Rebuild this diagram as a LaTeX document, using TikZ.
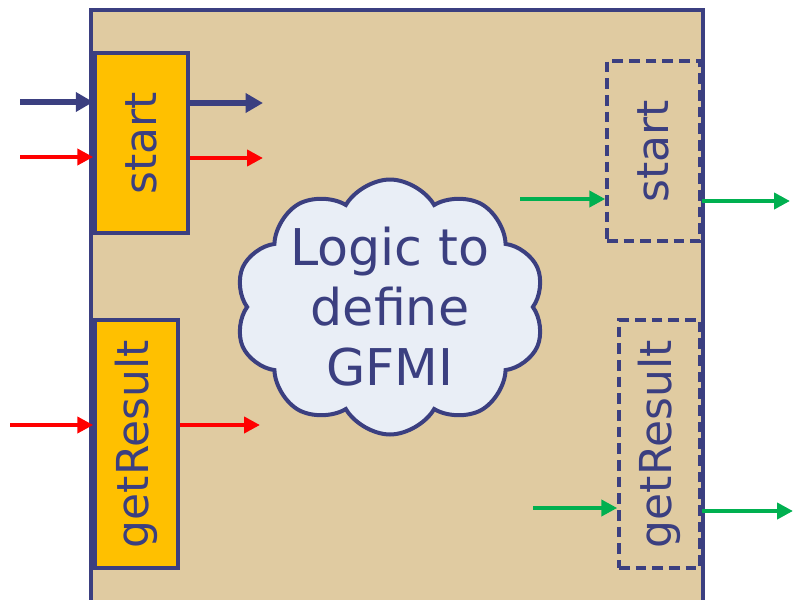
\documentclass[tikz,border=0pt]{standalone}
\usepackage{fontspec}
\setmainfont{DejaVu Sans}
\usetikzlibrary{positioning}
\usetikzlibrary{shapes.symbols}
\usetikzlibrary{arrows.meta}
\definecolor{navy}{RGB}{59,63,128}
\definecolor{tan}{RGB}{224,203,161}
\definecolor{portorange}{RGB}{255,192,0}
\definecolor{cloudblue}{RGB}{233,238,246}
\definecolor{sigred}{RGB}{255,0,0}
\definecolor{siggreen}{RGB}{0,176,80}

\begin{document}
\begin{tikzpicture}[x=0.75pt,y=-0.75pt,
  port/.style={draw=navy, line width=2.6pt, fill=portorange, inner sep=0pt, text=navy,
    font=\fontsize{33}{33}\selectfont},
  ghostport/.style={port, fill=none, dash pattern=on 8pt off 4.5pt},
  ctrl/.style={draw=navy, line width=5pt, -{Triangle[length=13pt,width=14pt]}},
  redsig/.style={draw=sigred, line width=3pt, -{Triangle[length=12pt,width=12pt]}},
  greensig/.style={draw=siggreen, line width=3pt, -{Triangle[length=12pt,width=12pt]}}]
\useasboundingbox (0,0) rectangle (793,600);
\clip (0,0) rectangle (793,600);
% component body
\draw[navy, line width=2.6pt, fill=tan] (91,10) rectangle (703,640);
% ports on the left
\node[port, minimum width=93*0.75pt, minimum height=180*0.75pt](start) at (141.5,143){\rotatebox{90}{start}};
\node[port, minimum width=83*0.75pt, minimum height=248*0.75pt](getres) at (136.5,444){\rotatebox{90}{getResult}};
% ports on the right
\node[ghostport, minimum width=93*0.75pt, minimum height=180*0.75pt](rstart) at (653.5,151){\rotatebox{90}{start}};
\node[ghostport, minimum width=81*0.75pt, minimum height=248*0.75pt](rgetres) at (659.5,444){\rotatebox{90}{getResult}};
% the logic
\node[cloud, cloud puffs=10, cloud puff arc=120, draw=navy, line width=3pt, fill=cloudblue,
  text=navy, align=center, inner xsep=-22pt, inner ysep=-22pt,
  minimum width=310*0.75pt, minimum height=255*0.75pt,
  font=\fontsize{38}{45}\selectfont](logic) at (390,307){Logic to\\define\\GFMI};
% free ends
\coordinate (inA) at (20,102);
\coordinate (outA) at (263,103);
\coordinate (inB) at (20,157);
\coordinate (outB) at (263,158);
\coordinate (inC) at (10,425);
\coordinate (outC) at (260,425);
\coordinate (inD) at (520,199);
\coordinate (outD) at (790,201);
\coordinate (inE) at (533,508);
\coordinate (outE) at (793,511);
% signals
\draw[ctrl](inA)--(inA -| start.west);
\draw[ctrl](outA -| start.east)--(outA);
\draw[redsig](inB)--(inB -| start.west);
\draw[redsig](outB -| start.east)--(outB);
\draw[redsig](inC)--(inC -| getres.west);
\draw[redsig](outC -| getres.east)--(outC);
\draw[greensig](inD)--(inD -| rstart.west);
\draw[greensig](outD -| rstart.east)--(outD);
\draw[greensig](inE)--(inE -| rgetres.west);
\draw[greensig](outE -| rgetres.east)--(outE);
\end{tikzpicture}
\end{document}
